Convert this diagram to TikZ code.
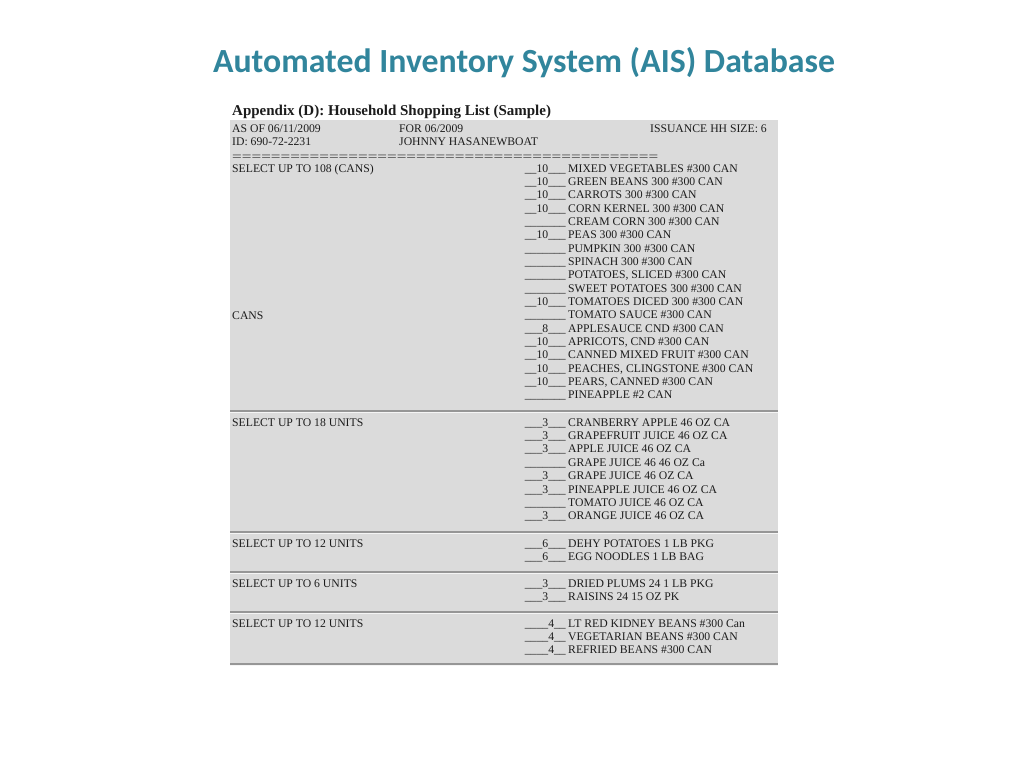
\documentclass[tikz,border=0pt]{standalone}
\usepackage{fontspec}
\setmainfont{Liberation Serif}
\newfontfamily\titlefont{Carlito}
\usetikzlibrary{positioning}

\definecolor{aisteal}{RGB}{49,133,156}
\definecolor{sheetgray}{RGB}{219,219,219}
\definecolor{rulegray}{RGB}{150,150,150}
\definecolor{inkgray}{RGB}{28,28,28}

% blanks of the list
\newcommand{\blank}{\_\_\_\_\_\_\_}
\newcommand{\qa}[1]{\_\_#1\_\_\_}
\newcommand{\qb}[1]{\_\_\_#1\_\_\_}
\newcommand{\qc}[1]{\_\_\_\_#1\_\_}

\begin{document}
\begin{tikzpicture}[x=1pt, y=-1pt,
	txt/.style={anchor=base west, inner sep=0, text=inkgray, font=\fontsize{11.7}{13}\selectfont},
	qty/.style={anchor=base east, inner sep=0, text=inkgray, font=\fontsize{11.7}{13}\selectfont},
	sep/.style={draw=rulegray, line width=1.2pt},
	seplight/.style={draw=white!92!gray, line width=.8pt}]

\useasboundingbox (0,0) rectangle (1024,768);

\node[anchor=base, inner sep=0, text=aisteal, font=\titlefont\bfseries\fontsize{33.8}{40}\selectfont] (title) at (524,72) {Automated Inventory System (AIS) Database};

\node[anchor=base west, inner sep=0, text=inkgray, font=\bfseries\fontsize{15}{18}\selectfont] (appx) at (232,115) {Appendix (D): Household Shopping List (Sample)};

% the sheet
\fill[sheetgray] (230,120) rectangle (778,665);

\foreach \y in {411, 532, 572, 612, 664}
	{
	\draw[sep] (230,\y) -- (778,\y);
	\draw[seplight] (230,\y+1.2) -- (778,\y+1.2);
	}

% header
\node[txt] (asof) at (232,132) {AS OF 06/11/2009};
\node[txt] (id) at (232,145) {ID: 690-72-2231};
\node[txt] (for) at (399,132) {FOR 06/2009};
\node[txt] (name) at (399,145) {JOHNNY HASANEWBOAT};
\node[qty] (hhsize) at (767,132) {ISSUANCE HH SIZE: 6};
\node[txt] (eqline) at (232,160.5) {\resizebox{426pt}{\height}{============================================}};

% left column
\node[txt] (sel1) at (232,172) {SELECT UP TO 108 (CANS)};
\node[txt] (cans) at (232,319) {CANS};
\node[txt] (sel2) at (232,426) {SELECT UP TO 18 UNITS};
\node[txt] (sel3) at (232,547) {SELECT UP TO 12 UNITS};
\node[txt] (sel4) at (232,587) {SELECT UP TO 6 UNITS};
\node[txt] (sel5) at (232,627) {SELECT UP TO 12 UNITS};

% cans
\foreach \q/\t [count=\i] in {
	\qa{10}/MIXED VEGETABLES \#300 CAN,
	\qa{10}/GREEN BEANS 300 \#300 CAN,
	\qa{10}/CARROTS 300 \#300 CAN,
	\qa{10}/CORN KERNEL 300 \#300 CAN,
	\blank/CREAM CORN 300 \#300 CAN,
	\qa{10}/PEAS 300 \#300 CAN,
	\blank/PUMPKIN 300 \#300 CAN,
	\blank/SPINACH 300 \#300 CAN,
	\blank/{POTATOES, SLICED \#300 CAN},
	\blank/SWEET POTATOES 300 \#300 CAN,
	\qa{10}/TOMATOES DICED 300 \#300 CAN,
	\blank/TOMATO SAUCE \#300 CAN,
	\qb{8}/APPLESAUCE CND \#300 CAN,
	\qa{10}/{APRICOTS, CND \#300 CAN},
	\qa{10}/CANNED MIXED FRUIT \#300 CAN,
	\qa{10}/{PEACHES, CLINGSTONE \#300 CAN},
	\qa{10}/{PEARS, CANNED \#300 CAN},
	\blank/PINEAPPLE \#2 CAN}
	{
	\node[qty] (qa\i) at (566,{172+(\i-1)*13.35}) {\q};
	\node[txt] (ia\i) at (568,{172+(\i-1)*13.35}) {\t};
	}

% juices
\foreach \q/\t [count=\i] in {
	\qb{3}/CRANBERRY APPLE 46 OZ CA,
	\qb{3}/GRAPEFRUIT JUICE 46 OZ CA,
	\qb{3}/APPLE JUICE 46 OZ CA,
	\blank/GRAPE JUICE 46 46 OZ Ca,
	\qb{3}/GRAPE JUICE 46 OZ CA,
	\qb{3}/PINEAPPLE JUICE 46 OZ CA,
	\blank/TOMATO JUICE 46 OZ CA,
	\qb{3}/ORANGE JUICE 46 OZ CA}
	{
	\node[qty] (qb\i) at (566,{426+(\i-1)*13.4}) {\q};
	\node[txt] (ib\i) at (568,{426+(\i-1)*13.4}) {\t};
	}

% the small groups
\foreach \q/\t/\y [count=\i] in {
	\qb{6}/DEHY POTATOES 1 LB PKG/547,
	\qb{6}/EGG NOODLES 1 LB BAG/560.4,
	\qb{3}/DRIED PLUMS 24 1 LB PKG/587,
	\qb{3}/RAISINS 24 15 OZ PK/600.4,
	\qc{4}/LT RED KIDNEY BEANS \#300 Can/627,
	\qc{4}/VEGETARIAN BEANS \#300 CAN/640.4,
	\qc{4}/REFRIED BEANS \#300 CAN/653.8}
	{
	\node[qty] (qc\i) at (566,\y) {\q};
	\node[txt] (ic\i) at (568,\y) {\t};
	}

\end{tikzpicture}
\end{document}
